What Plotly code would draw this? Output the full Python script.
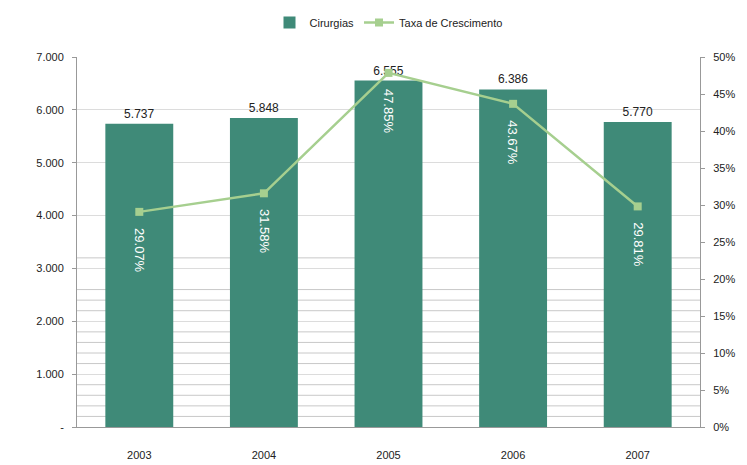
import plotly.graph_objects as go

# * data
years = ["2003", "2004", "2005", "2006", "2007"]
cirurgias = [5737, 5848, 6555, 6386, 5770]
taxa = [29.07, 31.58, 47.85, 43.67, 29.81]  # %

left_ticks = [0, 1000, 2000, 3000, 4000, 5000, 6000, 7000]
left_labels = ["-", "1.000", "2.000", "3.000", "4.000", "5.000", "6.000", "7.000"]
right_ticks = [0, 5, 10, 15, 20, 25, 30, 35, 40, 45, 50]
right_labels = [f"{v}%" for v in right_ticks]
minor_grid = [200, 400, 600, 800, 1200, 1400, 1600, 1800, 2200, 2400, 2600, 3200]

BAR = "#3f8a78"
LINE = "#a6cf8f"
FONT = "Liberation Sans"


def fmt_thousands(v):
    return f"{v:,}".replace(",", ".")


fig = go.Figure()

fig.add_trace(
    go.Bar(
        x=years,
        y=cirurgias,
        name="Cirurgias",
        marker=dict(color=BAR, line=dict(width=0)),
        text=[fmt_thousands(v) for v in cirurgias],
        textposition="outside",
        textfont=dict(size=12, color="#222222"),
        cliponaxis=False,
    )
)

fig.add_trace(
    go.Scatter(
        x=years,
        y=taxa,
        name="Taxa de Crescimento",
        yaxis="y2",
        mode="lines+markers",
        line=dict(color=LINE, width=2.5),
        marker=dict(symbol="square", size=8, color=LINE),
    )
)

# * rotated % labels under each line point
for i, v in enumerate(taxa):
    fig.add_annotation(
        x=i,
        y=v,
        xref="x",
        yref="y2",
        text=f"{v:.2f}%",
        textangle=90,
        showarrow=False,
        yanchor="top",
        yshift=-14,
        font=dict(size=13, color="white", family=FONT),
    )

# * lower band of extra grid lines
for g in minor_grid:
    fig.add_shape(
        type="line",
        xref="paper",
        x0=0,
        x1=1,
        yref="y",
        y0=g,
        y1=g,
        line=dict(color="#c8c8c8", width=1),
        layer="below",
    )

# page body adds an 8px offset, so the figure is a bit smaller than the window
fig.update_layout(
    width=739,
    height=457,
    margin=dict(l=69, r=47, t=49, b=38, autoexpand=False),
    paper_bgcolor="white",
    plot_bgcolor="white",
    font=dict(family=FONT, size=11, color="#222222"),
    bargap=0.455,
    showlegend=True,
    legend=dict(
        orientation="h",
        x=0.5,
        xanchor="center",
        y=1.0,
        yref="container",
        yanchor="top",
        font=dict(size=11),
        itemwidth=30,
    ),
    xaxis=dict(
        type="category",
        automargin=False,
        showgrid=False,
        showline=True,
        linecolor="#999999",
        ticks="",
        ticklabelstandoff=18,
        tickfont=dict(size=11),
    ),
    yaxis=dict(
        range=[0, 7000],
        automargin=False,
        tickvals=left_ticks,
        ticktext=left_labels,
        showgrid=True,
        gridcolor="#dcdcdc",
        showline=True,
        linecolor="#999999",
        ticks="outside",
        ticklen=4,
        tickcolor="#999999",
        ticklabelstandoff=6,
        zeroline=False,
        tickfont=dict(size=11),
    ),
    yaxis2=dict(
        range=[0, 50],
        automargin=False,
        overlaying="y",
        side="right",
        tickvals=right_ticks,
        ticktext=right_labels,
        showgrid=False,
        showline=True,
        linecolor="#999999",
        ticks="outside",
        ticklen=4,
        tickcolor="#999999",
        ticklabelstandoff=6,
        zeroline=False,
        tickfont=dict(size=11),
    ),
)

fig.write_html("out.html")
